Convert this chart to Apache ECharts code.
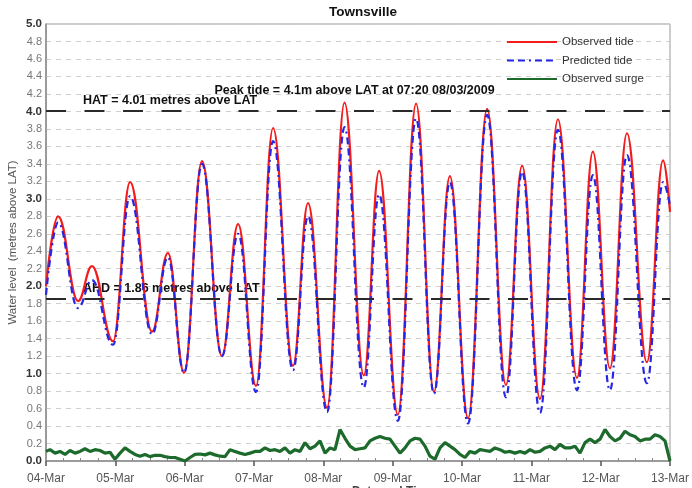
<!DOCTYPE html>
<html>
<head>
<meta charset="utf-8">
<title>Townsville</title>
<script src="https://cdn.jsdelivr.net/npm/echarts@6/dist/echarts.min.js"></script>
<style>
  html, body { margin: 0; padding: 0; background: #ffffff; }
  #chart { width: 692px; height: 488px; }
</style>
</head>
<body>
<div id="chart"></div>
<script>
// Day tick labels (one every 24 h from 04-Mar 00:00)
const dayLabels = ['04-Mar', '05-Mar', '06-Mar', '07-Mar', '08-Mar', '09-Mar', '10-Mar', '11-Mar', '12-Mar', '13-Mar'];

// Reference levels (metres above LAT)
const hatLevel = 4.01;
const ahdLevel = 1.86;
const peakHour = 103.33;   // 07:20 on 08/03/2009
const peakLevel = 4.1;

// Tide turning points: hours since 04-Mar 00:00
const tideHours = [0, 4.2, 11.1, 15.9, 23.2, 29.1, 36.7, 42.2, 47.8, 54.0, 60.9, 66.5, 72.7, 78.6, 85.5, 90.7, 97.3,
  103.33, 110.0, 115.3, 121.8, 128.1, 134.3, 139.8, 146.1, 152.7, 159.2, 164.8, 171.0, 177.2, 183.8, 189.3, 195.2,
  201.1, 208.0, 213.6, 216];

// Observed tide (m above LAT)
const observedTide = [2.00, 2.80, 1.83, 2.23, 1.37, 3.19, 1.48, 2.38, 1.01, 3.43, 1.20, 2.71, 0.86, 3.81, 1.09, 2.95, 0.61,
  4.10, 0.98, 3.32, 0.53, 4.09, 0.79, 3.26, 0.49, 4.03, 0.87, 3.38, 0.71, 3.91, 0.95, 3.54, 1.06,
  3.75, 1.13, 3.44, 2.85];

// Predicted tide (m above LAT)
const predictedTide = [1.90, 2.73, 1.75, 2.07, 1.33, 3.03, 1.45, 2.33, 1.01, 3.40, 1.20, 2.60, 0.79, 3.66, 1.04, 2.80, 0.56,
  3.82, 0.84, 3.05, 0.46, 3.92, 0.77, 3.19, 0.43, 3.96, 0.73, 3.31, 0.55, 3.79, 0.81, 3.27, 0.81,
  3.50, 0.89, 3.19, 2.92];

// Observed surge samples
const surgeHours = [0, 1.38, 3.12, 4.85, 6.58, 8.31, 10.04, 11.77, 13.5, 15.23, 16.96, 18.69, 20.42, 22.15, 23.88,
  25.62, 27.35, 29.08, 30.81, 32.54, 34.27, 36.0, 37.73, 39.46, 41.19, 42.92, 44.65, 46.38, 48.12, 49.85,
  51.58, 53.31, 55.04, 56.77, 58.5, 60.23, 61.96, 63.69, 65.42, 67.15, 68.88, 70.62, 72.35, 74.08, 75.81,
  77.54, 79.27, 81.0, 82.73, 84.46, 86.19, 87.92, 89.65, 91.38, 93.12, 94.85, 96.58, 98.31, 100.04,
  101.77, 103.5, 105.23, 106.96, 108.69, 110.42, 112.15, 113.88, 115.62, 117.35, 119.08, 120.81, 122.54,
  124.27, 126.0, 127.73, 129.46, 131.19, 132.92, 134.65, 136.38, 138.12, 139.85, 141.58, 143.31, 145.04,
  146.77, 148.5, 150.23, 151.96, 153.69, 155.42, 157.15, 158.88, 160.62, 162.35, 164.08, 165.81, 167.54,
  169.27, 171.0, 172.73, 174.46, 176.19, 177.92, 179.65, 181.38, 183.12, 184.85, 186.58, 188.31, 190.04,
  191.77, 193.5, 195.23, 196.96, 198.69, 200.42, 202.15, 203.88, 205.62, 207.35, 209.08, 210.81, 212.54,
  214.27, 216.0];
const observedSurge = [0.11, 0.13, 0.09, 0.11, 0.075, 0.12, 0.09, 0.11, 0.14, 0.11, 0.13, 0.12, 0.09, 0.10, 0.02,
  0.09, 0.15, 0.11, 0.075, 0.055, 0.075, 0.05, 0.065, 0.065, 0.05, 0.04, 0.04, 0.02, 0.0, 0.04,
  0.075, 0.08, 0.07, 0.09, 0.07, 0.055, 0.05, 0.13, 0.11, 0.09, 0.075, 0.09, 0.11, 0.11, 0.15,
  0.12, 0.13, 0.11, 0.15, 0.09, 0.13, 0.11, 0.21, 0.14, 0.17, 0.23, 0.09, 0.15, 0.13,
  0.36, 0.26, 0.17, 0.13, 0.14, 0.15, 0.23, 0.26, 0.28, 0.26, 0.25, 0.17, 0.09,
  0.15, 0.23, 0.26, 0.25, 0.17, 0.055, 0.02, 0.15, 0.21, 0.17, 0.13, 0.075, 0.04,
  0.11, 0.09, 0.13, 0.12, 0.11, 0.15, 0.13, 0.10, 0.11, 0.09, 0.11, 0.09, 0.13,
  0.10, 0.11, 0.15, 0.17, 0.13, 0.19, 0.15, 0.15, 0.17, 0.09, 0.21, 0.25, 0.21,
  0.25, 0.36, 0.28, 0.23, 0.26, 0.34, 0.30, 0.28, 0.23, 0.25, 0.25, 0.30, 0.28,
  0.23, 0.0];

const pairs = (xs, ys) => xs.map((x, i) => [x, ys[i]]);

const chart = echarts.init(document.getElementById('chart'), null, { renderer: 'canvas' });

const FONT = 'Arial, "Liberation Sans", sans-serif';

chart.setOption({
  animation: false,
  backgroundColor: '#ffffff',
  title: {
    text: 'Townsville',
    left: 329, top: 5, padding: 0,
    textStyle: { fontFamily: FONT, fontSize: 13.5, fontWeight: 'bold', color: '#111' }
  },
  legend: {
    orient: 'vertical',
    left: 506, top: 36, padding: 0,
    itemWidth: 50, itemHeight: 12, itemGap: 6.5,
    itemStyle: { color: 'transparent', borderColor: 'transparent', borderWidth: 0, opacity: 0 },
    textStyle: { fontFamily: FONT, fontSize: 11.5, color: '#333' },
    data: ['Observed tide', 'Predicted tide', 'Observed surge']
  },
  grid: {
    left: 46, right: 22, top: 24, bottom: 27,
    outerBoundsMode: 'none',
    show: true, borderColor: '#9a9a9a', borderWidth: 1
  },
  xAxis: {
    type: 'value', min: 0, max: 216, interval: 24,
    axisLine: { show: true, lineStyle: { color: '#8a8a8a', width: 1.5 } },
    axisTick: { show: true, length: 5, lineStyle: { color: '#555', width: 1.5 } },
    minorTick: { show: true, splitNumber: 4, length: -3, lineStyle: { color: '#888' } },
    splitLine: { show: false },
    axisLabel: {
      margin: 12, fontFamily: FONT, fontSize: 12, color: '#555',
      showMinLabel: true, showMaxLabel: true,
      formatter: v => dayLabels[Math.round(v / 24)]
    }
  },
  yAxis: {
    type: 'value', min: 0, max: 5, interval: 0.2,
    name: 'Water level  (metres above LAT)',
    nameLocation: 'middle', nameGap: 27, nameMoveOverlap: false,
    nameTextStyle: { fontFamily: FONT, fontSize: 11.5, color: '#555' },
    axisLine: { show: true, lineStyle: { color: '#8a8a8a', width: 1.5 } },
    axisTick: { show: false },
    splitLine: { show: true, lineStyle: { color: '#cfcfcf', width: 1, type: [5, 5] } },
    axisLabel: {
      margin: 4,
      formatter: v => {
        const s = v.toFixed(1);
        return Math.abs(v - Math.round(v)) < 1e-6 ? '{b|' + s + '}' : '{n|' + s + '}';
      },
      rich: {
        b: { fontFamily: FONT, fontSize: 11.5, fontWeight: 'bold', color: '#333' },
        n: { fontFamily: FONT, fontSize: 11, color: '#777' }
      }
    }
  },
  series: [
    {
      name: 'Observed tide', type: 'line',
      data: pairs(tideHours, observedTide),
      smooth: 0.42, smoothMonotone: 'x',
      symbol: 'none',
      lineStyle: { color: '#f21c1c', width: 2.2 },
      itemStyle: { color: '#f21c1c' },
      z: 3,
      markLine: {
        silent: true, symbol: ['none', 'none'],
        label: { show: false },
        lineStyle: { color: '#2a2a2a', width: 2, type: [20, 18.5] },
        data: [{ yAxis: hatLevel }, { yAxis: ahdLevel }]
      }
    },
    {
      name: 'Predicted tide', type: 'line',
      data: pairs(tideHours, predictedTide),
      smooth: 0.42, smoothMonotone: 'x',
      symbol: 'none',
      lineStyle: { color: '#2626e6', width: 2.2, type: [7, 4, 7, 4, 2, 4] },
      itemStyle: { color: '#2626e6' },
      z: 4
    },
    {
      name: 'Observed surge', type: 'line',
      data: pairs(surgeHours, observedSurge),
      symbol: 'none',
      lineStyle: { color: '#1c6b2c', width: 3.2 },
      itemStyle: { color: '#1c6b2c' },
      z: 5
    }
  ]
});

// Annotations anchored to the reference levels
const px = (h, v) => chart.convertToPixel({ xAxisIndex: 0, yAxisIndex: 0 }, [h, v]);
const hatPt = px(12.8, hatLevel);
const ahdPt = px(12.8, ahdLevel);
const peakPt = px(peakHour, peakLevel);
const annot = { fontFamily: FONT, fontSize: 12.5, fontWeight: 'bold', fill: '#111' };

chart.setOption({
  graphic: [
    { type: 'text', z: 1, left: hatPt[0], top: hatPt[1] - 16,
      style: Object.assign({ text: 'HAT = 4.01 metres above LAT' }, annot) },
    { type: 'text', z: 1, left: ahdPt[0], top: ahdPt[1] - 16,
      style: Object.assign({ text: 'AHD = 1.86 metres above LAT' }, annot) },
    { type: 'text', z: 1, left: peakPt[0] - 130, top: peakPt[1] - 19,
      style: Object.assign({ text: 'Peak tide = 4.1m above LAT at 07:20 08/03/2009' }, annot) },
    { type: 'text', z: 1, left: 352, top: 485.5,
      style: { text: 'Date and Time', fontFamily: FONT, fontSize: 12, fontWeight: 'bold', fill: '#444' } }
  ]
});
</script>
</body>
</html>
